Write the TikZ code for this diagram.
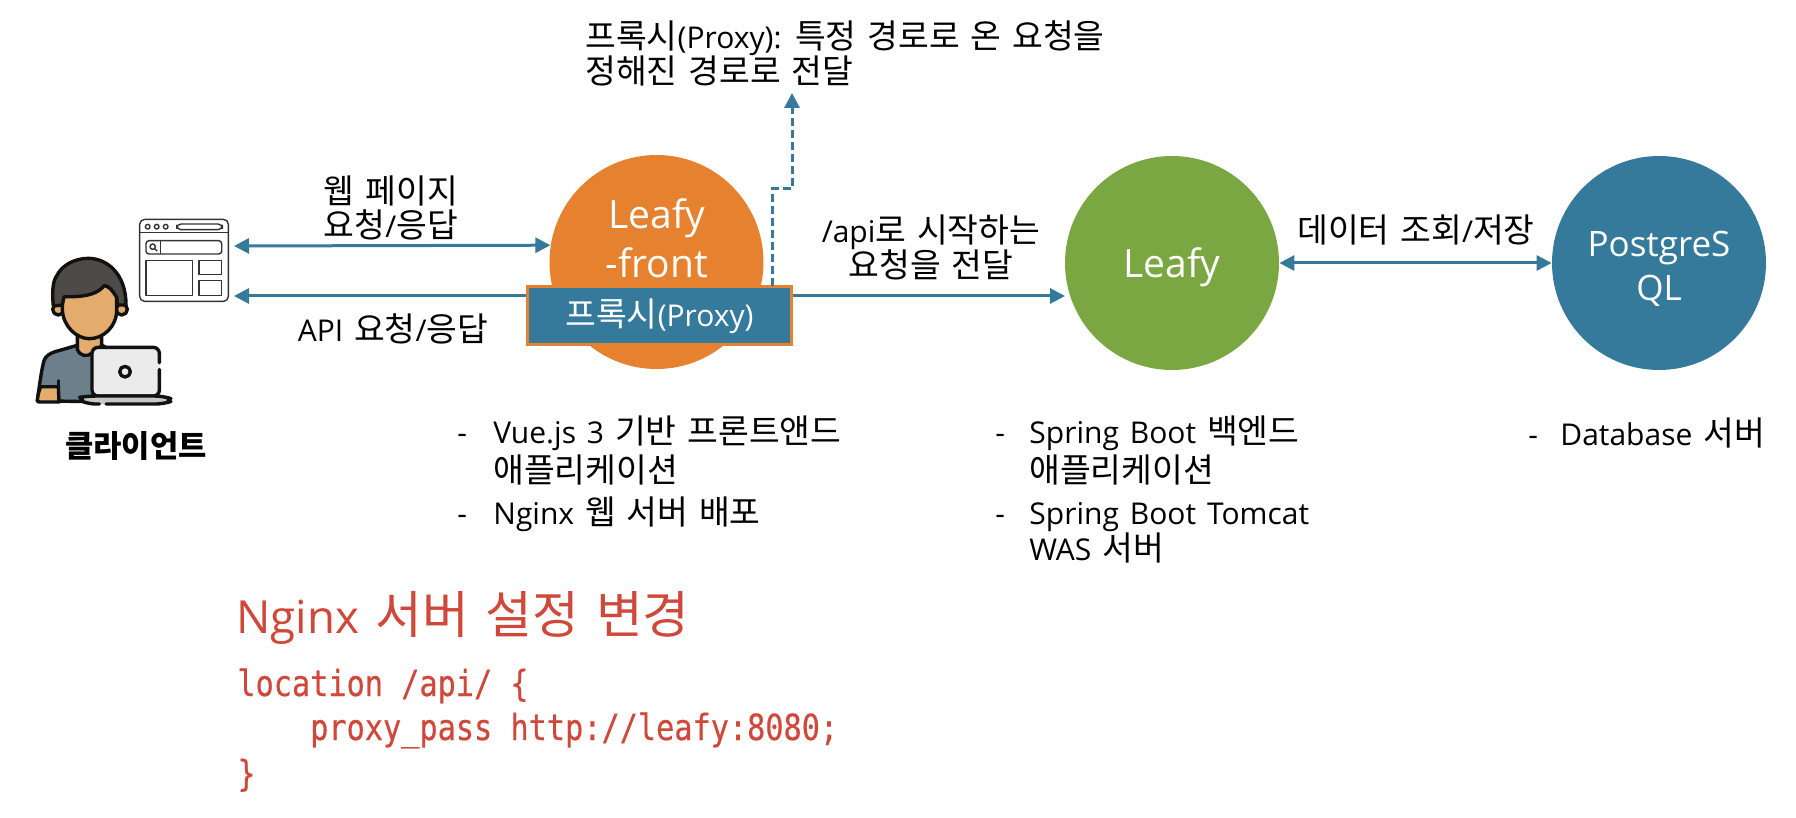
\documentclass[tikz,border=0pt]{standalone}
\usepackage{fontspec}
\usetikzlibrary{arrows.meta}
\setmainfont[WordSpace=1.4]{Open Sans}
\newfontfamily\hgfont[Scale=1.115]{Noto Sans CJK KR}
\newfontfamily\codefont[FakeStretch=0.84,FakeBold=0.4]{DejaVu Sans Mono}
\XeTeXinterchartokenstate=1
\newXeTeXintercharclass\hgclass
\count255="AC00
\loop\XeTeXcharclass\count255=\hgclass\ifnum\count255<"D7A3 \advance\count255 by 1 \repeat
\XeTeXinterchartoks 0 \hgclass={\begingroup\hgfont}
\XeTeXinterchartoks 4095 \hgclass={\begingroup\hgfont}
\XeTeXinterchartoks \hgclass 0={\endgroup}
\XeTeXinterchartoks \hgclass 4095={\endgroup}
\definecolor{teal}{HTML}{357A9B}
\definecolor{orng}{HTML}{E68130}
\definecolor{leaf}{HTML}{7BA743}
\definecolor{redt}{HTML}{D0483A}
\definecolor{hair}{HTML}{4D4A48}
\definecolor{skin}{HTML}{E3AC6C}
\definecolor{shirt}{HTML}{6C808C}
\definecolor{ink}{HTML}{111111}
\tikzset{
  svc/.style={circle,minimum size=107pt,inner sep=0pt,text=white},
  lbl/.style={inner sep=0pt,font=\fontsize{15pt}{16pt}\selectfont,text height=11pt,text depth=3pt},
  wht/.style={inner sep=0pt,text=white,font=\fontsize{19.5pt}{22pt}\selectfont,text height=15pt,text depth=5pt},
  code/.style={inner sep=0pt,text=redt,anchor=west,font=\codefont\fontsize{18pt}{20pt}\selectfont,text height=13pt,text depth=4pt},
  conn/.style={draw=teal,line width=1.5pt},
  ico/.style={line width=1.7pt,draw=ink,line join=round,line cap=round},
  thin/.style={line width=0.7pt,draw=black!80,line join=round}
}
\begin{document}
\begin{tikzpicture}[x=0.5pt,y=-0.5pt]
\useasboundingbox[fill=white] (0,0) rectangle (1796,818);
% services
\node[svc,fill=orng] (front) at (656.5,262) {};
\node[svc,fill=leaf] (leafy) at (1172,263) {};
\node[svc,fill=teal] (pg) at (1659,263) {};
\node[wht] (t1) at (657,219) {Leafy};
\node[wht] (t2) at (657,268) {-front};
\node[wht] (t3) at (1172,268) {Leafy};
\node[wht,font=\fontsize{17.5pt}{20pt}\selectfont] (t4) at (1659,247) {PostgreS};
\node[wht,font=\fontsize{17.5pt}{20pt}\selectfont] (t5) at (1659,291) {QL};
% browser icon
\begin{scope}[x=0.1667pt,y=-0.1667pt,yshift=-95pt]
\node[inner sep=0pt,minimum width=44.5pt,minimum height=41pt] (browser) at (552,212) {};
\draw[thin,rounded corners=2.5pt] (419,88) rectangle (685,334);
\draw[thin] (419,127) -- (685,127);
\draw[thin] (443,110) circle (7) (470,110) circle (7) (497,110) circle (7);
\draw[thin,rounded corners=2.2pt] (530,102) rectangle (667,119);
\draw[thin,rounded corners=1.5pt] (438,152) rectangle (665,192);
\draw[thin] (481,152) -- (481,192);
\draw[thin] (458,170) circle (8) (464,176) -- (471,183);
\draw[thin] (438,211) rectangle (577,316);
\draw[thin] (597,211) rectangle (665,253);
\draw[thin] (597,272) rectangle (665,316);
\end{scope}
% person icon
\begin{scope}[x=0.1667pt,y=-0.1667pt,yshift=-95pt]
\draw[ico,fill=shirt] (112,632) .. controls (118,590) and (124,540) .. (132,512)
  .. controls (136,498) and (150,490) .. (165,485) -- (235,465) -- (305,465) -- (330,480) -- (330,636) -- cycle;
\draw[ico,fill=skin] (232,430) -- (232,478) .. controls (240,500) and (262,500) .. (275,490) -- (305,468) -- (305,430) -- cycle;
\draw[ico,fill=skin] (112,632) .. controls (114,610) and (118,600) .. (122,590) -- (175,590) -- (177,636) -- (125,636) .. controls (117,636) and (112,636) .. (112,632) -- cycle;
\draw[ico] (175,572) -- (175,590);
\draw[ico,fill=skin] (175,358) circle (17);
\draw[ico,fill=skin] (365,358) circle (17);
\draw[ico,fill=skin] (187,300) -- (187,360) .. controls (190,410) and (230,446) .. (268,446) .. controls (310,446) and (350,410) .. (350,360) -- (350,300) -- (268,270) -- cycle;
\draw[ico,fill=hair] (160,348) .. controls (155,300) and (160,270) .. (170,258)
  .. controls (185,225) and (225,205) .. (265,205) .. controls (320,205) and (378,250) .. (378,345)
  -- (352,345) -- (350,322) .. controls (340,305) and (325,285) .. (312,287)
  .. controls (295,310) and (260,322) .. (192,320) -- (187,345) -- cycle;
\draw[ico,fill=black!8,rounded corners=3pt] (478,518) -- (478,472) -- (276,472) -- (276,618) -- (478,618) -- (478,538);
\draw[ico,fill=black!8] (375,545) circle (16);
\draw[ico,fill=black!22,rounded corners=4pt] (298,642) -- (262,642) .. controls (250,636) and (250,620) .. (262,618) -- (490,618) .. controls (502,622) and (502,638) .. (490,642) -- (318,642);
\end{scope}
% proxy box
\node[draw=orng,fill=teal,line width=1.5pt,minimum width=132pt,minimum height=29pt,inner sep=0pt,text=white,font=\fontsize{15pt}{16pt}\selectfont] (proxy) at (659.5,316) {프록시(Proxy)};
% connectors
\coordinate (b1) at (234,246);
\coordinate (b2) at (234,296);
\coordinate (f1) at (front.171.4);
\coordinate (p1) at (proxy.north west |- b2);
\coordinate (r1) at (proxy.north east |- b2);
\coordinate (l1) at (1065,296);
\coordinate (d0) at (772,286);
\coordinate (d1) at (772,189);
\coordinate (d2) at (792,189);
\coordinate (d3) at (792,93);
\coordinate (r2) at (leafy.east |- pg.west);
\draw[conn,{Triangle[length=7.5pt,width=7.5pt]}-{Triangle[length=7.5pt,width=7.5pt]}] (b1) -- (f1);
\draw[conn,{Triangle[length=7.5pt,width=7.5pt]}-] (b2) -- (p1);
\draw[conn,-{Triangle[length=7.5pt,width=7.5pt]}] (r1) -- (l1);
\draw[conn,{Triangle[length=7.5pt,width=7.5pt]}-{Triangle[length=7.5pt,width=7.5pt]}] (r2) -- (pg.west);
\draw[conn,dash pattern=on 4pt off 2pt,-{Triangle[length=7.5pt,width=7.5pt]}] (d0) -- (d1) -- (d2) -- (d3);
% labels
\node[lbl,anchor=west] (a1) at (585,41) {프록시(Proxy): 특정 경로로 온 요청을};
\node[lbl,anchor=west] (a2) at (585,76) {정해진 경로로 전달};
\node[lbl] (a3) at (391,196) {웹 페이지};
\node[lbl] (a4) at (391,230) {요청/응답};
\node[lbl] (a5) at (393,334) {API 요청/응답};
\node[lbl] (a6) at (931,235) {/api로 시작하는};
\node[lbl] (a7) at (931,270) {요청을 전달};
\node[lbl] (a8) at (1416,235) {데이터 조회/저장};
\node[lbl,font=\bfseries\fontsize{13.8pt}{16pt}\selectfont] (a9) at (136,450) {클라이언트};
% notes
\node[lbl,anchor=west] (n1) at (457,436) {-};
\node[lbl,anchor=west] (n2) at (493,436) {Vue.js 3 기반 프론트앤드};
\node[lbl,anchor=west] (n3) at (493,475) {애플리케이션};
\node[lbl,anchor=west] (n4) at (457,516) {-};
\node[lbl,anchor=west] (n5) at (493,516) {Nginx 웹 서버 배포};
\node[lbl,anchor=west] (n6) at (995,436) {-};
\node[lbl,anchor=west] (n7) at (1029,436) {Spring Boot 백엔드};
\node[lbl,anchor=west] (n8) at (1029,475) {애플리케이션};
\node[lbl,anchor=west] (n9) at (995,516) {-};
\node[lbl,anchor=west] (n10) at (1029,516) {Spring Boot Tomcat};
\node[lbl,anchor=west] (n11) at (1029,552) {WAS 서버};
\node[lbl,anchor=west] (n12) at (1528,438) {-};
\node[lbl,anchor=west] (n13) at (1560,438) {Database 서버};
% nginx
\node[inner sep=0pt,anchor=west,text=redt,font=\fontsize{22.8pt}{26pt}\selectfont,text height=18pt,text depth=5pt] (ng) at (236,620) {Nginx 서버 설정 변경};
\node[code] (c1) at (237,687) {location /api/ \{};
\node[code] (c2) at (237,731) {\ \ \ \ proxy\_pass http://leafy:8080;};
\node[code] (c3) at (237,777) {\}};
\end{tikzpicture}
\end{document}
